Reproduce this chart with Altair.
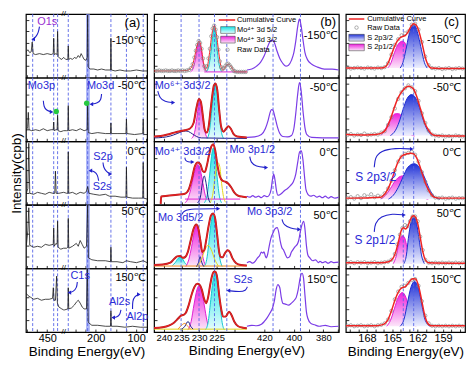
import altair as alt
import pandas as pd

FONT = "Liberation Sans, DejaVu Sans, Noto Sans CJK SC"
TEMPS = ["-150℃", "-50℃", "0℃", "50℃", "150℃"]

# ---------------- (a) survey spectra: (binding energy eV, intensity a.u.) ----------------
A_M150 = [(501.6, 27), (498.0, 29), (493.2, 26), (489.6, 27), (487.2, 37), (484.8, 25), (478.8, 24), (469.2, 25),
          (459.6, 24), (450.0, 25), (440.4, 24), (435.1, 25), (434.0, 41), (432.5, 24), (428.4, 25), (425.5, 24),
          (424.3, 48), (422.9, 22), (418.8, 20), (414.0, 19), (409.5, 21), (279.0, 21), (274.3, 19), (269.0, 19),
          (267.9, 33), (266.7, 19), (262.3, 20), (257.5, 19), (252.8, 21), (248.0, 20), (243.2, 23), (239.6, 21),
          (236.0, 25), (232.4, 22), (228.8, 19), (224.0, 18), (221.1, 21), (219.9, 65), (218.5, 11), (214.4, 9),
          (204.8, 9), (195.2, 8), (185.6, 9), (176.0, 8), (163.5, 8), (162.4, 41), (161.2, 8), (152.0, 7),
          (140.0, 8), (128.0, 7), (113.7, 7), (99.3, 8), (84.9, 7), (72.9, 7)]
A_M50 = [(501.6, 11), (498.5, 15), (496.8, 30), (494.9, 12), (488.4, 11), (478.8, 12), (469.2, 11), (459.6, 13),
         (450.0, 11), (440.4, 12), (435.1, 12), (434.0, 20), (432.8, 11), (428.4, 12), (425.5, 12), (424.3, 27),
         (423.1, 11), (416.4, 10), (409.5, 11), (279.0, 11), (271.9, 11), (269.0, 11), (267.9, 37), (266.7, 11),
         (257.5, 12), (248.0, 11), (238.4, 13), (228.8, 11), (221.1, 12), (219.9, 39), (218.5, 9), (209.6, 8),
         (195.2, 9), (176.0, 8), (163.5, 8), (162.4, 19), (161.2, 8), (147.2, 8), (125.2, 8), (124.0, 23),
         (122.8, 8), (104.0, 7), (83.7, 8), (82.5, 23), (81.3, 7), (72.9, 7)]
A_0 = [(501.6, 12), (498.0, 17), (495.6, 64), (493.2, 12), (483.6, 11), (474.0, 13), (464.4, 12), (454.8, 11),
       (445.2, 13), (435.6, 12), (431.3, 12), (429.6, 35), (427.9, 12), (421.2, 12), (409.5, 13), (279.0, 13),
       (271.9, 12), (269.0, 12), (267.9, 55), (266.7, 12), (257.5, 13), (248.0, 11), (238.4, 13), (228.8, 12),
       (222.8, 14), (219.9, 19), (216.8, 12), (204.8, 11), (190.4, 10), (176.0, 11), (166.4, 9), (152.0, 9),
       (137.6, 8), (125.2, 8), (124.0, 39), (122.8, 8), (108.9, 7), (94.5, 7), (83.7, 7), (82.5, 44), (81.3, 7),
       (72.9, 6)]
A_50 = [(501.6, 24), (498.0, 39), (495.6, 63), (493.2, 24), (483.6, 22), (474.0, 23), (464.4, 22), (454.8, 25),
        (445.2, 24), (435.1, 25), (434.0, 42), (432.8, 23), (428.4, 26), (425.5, 25), (424.3, 49), (423.1, 22),
        (416.4, 20), (409.5, 21), (279.0, 21), (271.9, 21), (269.0, 22), (267.9, 52), (266.7, 21), (257.5, 23),
        (248.0, 26), (243.2, 23), (238.4, 29), (233.6, 25), (228.8, 21), (222.8, 23), (219.9, 66), (218.0, 11),
        (209.6, 9), (195.2, 8), (176.0, 8), (163.5, 7), (162.4, 22), (161.2, 7), (147.2, 7), (132.8, 6),
        (124.0, 8), (113.7, 7), (99.3, 6), (82.5, 8), (72.9, 6)]
A_150 = [(501.6, 40), (498.0, 38), (490.8, 36), (483.6, 34), (474.0, 35), (464.4, 33), (454.8, 34), (445.2, 34),
         (436.8, 35), (434.9, 46), (433.2, 33), (429.6, 33), (426.7, 58), (424.8, 30), (421.2, 26), (414.0, 24),
         (409.5, 23), (279.0, 23), (276.7, 23), (269.0, 24), (267.9, 46), (266.7, 24), (260.0, 25), (252.8, 28),
         (248.0, 31), (243.2, 33), (238.4, 30), (233.6, 26), (228.8, 24), (222.8, 24), (220.9, 66), (218.5, 10),
         (209.6, 7), (195.2, 7), (176.0, 6), (163.5, 6), (162.4, 22), (161.2, 6), (147.2, 6), (128.0, 5),
         (108.9, 6), (89.7, 5), (72.9, 5)]
A_SPECTRA = [A_M150, A_M50, A_0, A_50, A_150]
A_PEAK_LINES = [486, 434, 424.3, 267.9, 219.9, 162.4, 124, 82.5]
A_BAND = [(224.0, 214.4, 0, 66)]

# ---------------- (b) Mo 3d / Mo 3p ----------------
B_FIT_M150 = [(242.84, 7), (237.6, 7), (233.5, 7.5), (232.1, 11), (231.3, 21), (230.6, 33), (229.98, 38),
              (229.35, 31), (228.8, 17), (228.24, 9), (227.7, 11), (227.0, 26), (226.3, 46), (225.69, 54),
              (225.08, 46), (224.39, 26), (223.84, 13), (223.29, 8), (222.74, 10), (222.19, 13), (221.55, 14),
              (220.95, 12), (220.26, 8), (219.43, 6), (216.41, 6)]
B_RAW_M150 = [(242.5, 7), (241.9, 7), (241.3, 7.5), (240.7, 7), (240.1, 7), (239.5, 7.5), (238.9, 7), (238.3, 7),
              (237.7, 7.5), (237.1, 7), (236.5, 7), (235.9, 7.5), (235.3, 7), (234.7, 7.5), (234.1, 7), (233.5, 7.5),
              (232.9, 8), (232.3, 10), (231.8, 14), (231.3, 21), (230.9, 28), (230.5, 34), (230.1, 38), (229.7, 36),
              (229.3, 30), (228.9, 20), (228.5, 12), (228.1, 9), (227.7, 12), (227.3, 20), (226.9, 30), (226.5, 43),
              (226.1, 51), (225.7, 54), (225.3, 50), (224.9, 42), (224.5, 29), (224.1, 17), (223.7, 11), (223.3, 9),
              (222.9, 10), (222.5, 12), (222.1, 14), (221.7, 14.5), (221.3, 13), (220.9, 11), (220.5, 9), (220.1, 7),
              (219.7, 6.5), (219.1, 6), (218.5, 6), (217.9, 6), (217.3, 6), (216.7, 6)]
B_MAG_M150 = [(232.38, 6), (231.55, 11), (230.86, 23), (230.45, 33), (229.98, 37), (229.48, 31), (229.07, 21),
              (228.52, 11), (227.7, 6)]
B_CYAN_M150 = [(227.97, 6), (227.28, 11), (226.73, 23), (226.18, 41), (225.69, 53), (225.22, 43), (224.67, 23),
               (224.12, 11), (223.43, 6)]
B_BASE_M150 = [(228.5, 6), (216.41, 6)]
B_PURPLE_M150 = [(431.8, 8), (428.5, 9), (425.2, 12), (422.6, 16), (420.0, 23), (418.03, 31), (416.39, 37),
                 (414.56, 39), (413.11, 36), (411.47, 28), (409.5, 20), (407.54, 15), (405.38, 12), (403.61, 13),
                 (401.64, 18), (400.0, 26), (398.69, 38), (397.38, 53), (396.2, 61), (395.08, 54), (393.77, 39),
                 (392.46, 26), (390.49, 18), (387.87, 14), (383.94, 11), (379.35, 9), (374.1, 9), (369.51, 8)]

B_FIT_M50 = [(242.84, 5), (240.91, 5.5), (238.98, 7), (237.05, 9), (235.4, 10.5), (234.03, 11.5), (232.65, 13),
             (231.55, 19), (230.72, 35), (230.03, 44), (229.48, 41), (228.93, 27), (228.38, 12), (227.83, 9),
             (227.28, 15), (226.73, 32), (226.18, 49), (225.77, 58), (225.3, 60), (224.8, 53), (224.25, 32),
             (223.7, 15), (223.01, 10), (222.33, 13), (221.64, 15.5), (220.95, 13), (220.26, 8), (219.16, 5),
             (216.41, 4)]
B_NAVY_M50 = [(242.84, 3.5), (240.36, 4), (238.16, 5.5), (236.23, 8), (234.85, 10), (233.89, 10.7), (232.93, 10),
              (231.83, 7.5), (230.72, 5), (229.35, 3.5), (216.41, 3)]
B_MAG_M50 = [(232.1, 3), (231.28, 9), (230.59, 25), (230.09, 39), (229.7, 42), (229.29, 37), (228.8, 22),
             (228.24, 9), (227.56, 3)]
B_CYAN_M50 = [(227.7, 3), (227.01, 11), (226.46, 29), (225.91, 49), (225.3, 59), (224.72, 48), (224.25, 29),
              (223.7, 11), (223.01, 3)]
B_PURPLE_M50 = [(431.8, 4), (426.56, 4.5), (421.97, 7), (419.34, 13), (417.38, 22), (416.07, 30), (415.21, 33),
                (414.1, 32), (412.79, 25), (411.15, 15), (409.5, 8), (407.54, 5), (404.26, 4.5), (401.64, 6),
                (400.0, 13), (398.69, 29), (397.38, 49), (396.2, 61), (395.08, 53), (393.77, 31), (392.46, 14),
                (391.15, 7), (387.87, 4), (380.66, 3.5), (369.51, 3.5)]

B_FIT_0 = [(240.91, 1), (240.77, 8.7), (238.98, 9.5), (236.23, 10.5), (234.03, 11.5), (232.93, 16), (232.1, 26),
           (231.28, 39), (230.36, 44), (229.62, 42), (228.93, 35), (228.38, 34), (227.83, 40), (227.14, 52),
           (226.46, 61), (225.96, 63), (225.36, 56), (224.81, 42), (224.12, 30), (223.29, 25), (222.47, 24),
           (221.64, 22), (220.81, 18), (219.99, 13), (218.88, 9.5), (217.51, 8.5), (216.41, 8)]
B_MAG_0 = [(234.03, 2), (233.2, 6), (232.38, 16), (231.55, 30), (230.86, 39), (230.36, 42), (229.76, 38),
           (229.07, 26), (228.24, 10), (227.42, 2)]
B_NAVY_0 = [(230.45, 2), (229.62, 8), (229.07, 22), (228.52, 30), (227.97, 22), (227.42, 8), (226.73, 2)]
B_CYAN_0 = [(228.52, 2), (227.7, 10), (227.01, 30), (226.46, 50), (225.96, 59), (225.5, 52), (224.94, 32),
            (224.25, 10), (223.57, 2)]
B_YEL_0 = [(226.87, 2), (226.04, 12), (225.36, 32), (224.67, 44), (224.12, 40), (223.57, 22), (222.88, 6),
           (222.19, 2)]
B_BASE_0 = [(234.0, 6), (218.3, 6)]
B_PURPLE_0 = [(431.8, 9), (429.84, 8), (427.87, 9.5), (425.9, 8), (423.93, 9), (421.97, 7.5), (420.0, 9.5),
              (418.03, 8.5), (416.72, 10), (415.41, 16), (414.43, 27), (413.64, 32), (412.79, 26), (411.8, 15),
              (410.82, 10), (409.5, 10.5), (408.2, 12), (406.23, 15), (404.26, 17), (402.3, 20), (400.33, 24),
              (398.69, 32), (397.38, 44), (396.07, 55), (394.89, 56), (393.77, 46), (392.79, 30), (391.8, 16),
              (390.49, 11), (388.52, 9), (386.56, 10), (384.59, 8), (382.62, 9), (380.66, 7.5), (378.69, 9),
              (376.72, 7), (374.75, 8.5), (372.13, 7), (369.51, 8)]

B_FIT_50 = [(242.84, 3.5), (240.36, 4), (238.16, 6), (237.05, 10), (236.23, 12.5), (235.4, 13), (234.58, 11),
            (233.89, 12), (233.2, 17), (232.38, 29), (231.55, 41), (230.8, 45.5), (230.17, 41), (229.62, 29),
            (229.07, 17), (228.52, 19), (227.97, 29), (227.28, 44), (226.59, 55), (225.96, 57), (225.36, 51),
            (224.81, 34), (224.26, 17), (223.84, 12), (223.29, 11.5), (222.6, 16), (221.91, 19), (221.23, 17),
            (220.54, 11), (219.43, 5.5), (218.06, 3.5), (216.41, 3)]
B_CYANS_50 = [(237.6, 3), (236.78, 6), (235.95, 10.5), (235.4, 11.5), (234.71, 10), (233.89, 5), (233.2, 3)]
B_MAG_50 = [(233.75, 2), (232.93, 9), (232.1, 23), (231.41, 37), (230.8, 44), (230.17, 38), (229.48, 24),
            (228.8, 10), (227.97, 2)]
B_NAVY_50 = [(230.72, 2), (230.17, 6), (229.7, 12.3), (229.2, 6), (228.66, 2)]
B_YEL_50 = [(230.45, 2), (229.35, 9), (228.24, 20), (227.42, 24), (226.59, 20), (225.49, 9), (224.39, 2)]
B_CYAN_50 = [(228.52, 2), (227.83, 9), (227.28, 24), (226.59, 47), (225.96, 56.5), (225.36, 49), (224.81, 31),
             (224.12, 11), (223.43, 2)]
B_BASE_50 = [(242.84, 2.5), (216.41, 2.5)]
B_PURPLE_50 = [(431.8, 6), (429.84, 7), (427.87, 5.5), (425.9, 8), (424.59, 11), (423.28, 13), (421.97, 17),
               (420.98, 16), (420.2, 17.3), (419.34, 13), (418.69, 11), (417.7, 15), (416.72, 23), (415.41, 32),
               (414.1, 37), (412.79, 41), (411.28, 42.3), (410.16, 37), (409.18, 28), (408.2, 22), (406.89, 19),
               (405.57, 14), (404.26, 11), (402.95, 12), (401.64, 17), (400.33, 20), (399.02, 23), (397.7, 25),
               (396.72, 29), (395.74, 37), (394.75, 44), (393.31, 49), (392.46, 41), (391.48, 24), (390.49, 14),
               (389.18, 11), (387.21, 8), (385.25, 9), (383.28, 6), (382.3, 7.5), (380.66, 6), (378.69, 7),
               (376.72, 5.5), (374.75, 7), (372.79, 6), (369.51, 6.5)]

B_FIT_150 = [(242.84, 4.3), (240.36, 5), (238.43, 7), (237.05, 10), (235.95, 14), (235.13, 17), (234.49, 17.7),
             (233.75, 20), (232.93, 28), (232.1, 39), (231.28, 47), (230.45, 50), (229.9, 49.3), (229.21, 44),
             (228.52, 34), (227.97, 30), (227.42, 36), (226.87, 48), (226.32, 58), (225.77, 62.5), (225.3, 62.7),
             (224.81, 56), (224.26, 38), (223.7, 24), (223.15, 16), (222.47, 16), (221.44, 21), (220.81, 18),
             (219.99, 11), (218.88, 6), (217.51, 4.5), (216.41, 4)]
B_NAVY_150 = [(234.85, 3), (234.03, 6), (233.12, 11), (232.38, 6), (231.69, 3)]
B_ORG_150 = [(235.95, 3), (234.99, 7), (234.03, 9), (233.2, 6), (232.38, 3)]
B_MAG_150 = [(233.2, 2), (232.24, 11), (231.41, 29), (230.59, 44), (229.9, 48.5), (229.21, 43), (228.52, 28),
             (227.7, 11), (226.87, 2)]
B_CYAN_150 = [(228.24, 2), (227.42, 10), (226.73, 31), (226.04, 53), (225.3, 62), (224.67, 53), (224.12, 33),
              (223.43, 10), (222.74, 2)]
B_BASE_150 = [(242.84, 3), (216.41, 3)]
B_PURPLE_150 = [(431.8, 6), (428.5, 7), (425.25, 6.5), (421.97, 8), (420.0, 11), (418.03, 15), (416.07, 20),
                (414.43, 25), (413.11, 33), (412.13, 43), (410.82, 49.3), (409.5, 46), (408.52, 36), (407.54, 30),
                (405.57, 29), (403.61, 28), (401.64, 30), (399.67, 33), (398.36, 36), (397.05, 44), (395.74, 56),
                (394.43, 61), (393.44, 56), (392.46, 38), (391.48, 21), (390.49, 14), (388.52, 9), (385.9, 7.5),
                (382.62, 6), (378.69, 7), (374.75, 5.5), (369.51, 6)]
B_PEAK_LINES = [235.1, 230.0, 225.6, 222.1, 414.1, 395.5]

# ---------------- (c) S 2p ----------------
C_FIT_M150 = [(170.48, 10), (169.23, 10), (167.51, 10), (166.36, 10), (165.79, 11.5), (165.45, 16), (165.1, 24),
              (164.76, 32), (164.42, 38), (164.07, 41.5), (163.73, 43), (163.44, 44), (163.16, 47), (162.81, 53),
              (162.47, 56), (162.13, 54), (161.78, 46), (161.44, 34), (161.1, 21), (160.75, 13), (160.41, 10),
              (159.49, 9.5), (156.4, 9.5)]
C_BLUE_M150 = [(164.07, 10), (163.73, 16), (163.39, 29), (163.04, 44), (162.76, 52), (162.47, 55), (162.19, 52),
               (161.9, 43), (161.55, 29), (161.21, 16), (160.87, 10)]
C_MAG_M150 = [(165.56, 10), (165.22, 14), (164.82, 24), (164.42, 33), (164.07, 37), (163.76, 38), (163.44, 35),
              (163.16, 26), (162.81, 15), (162.47, 10)]
C_RAW_M150 = [(170.3, 10.5), (169.9, 9.5), (169.5, 10), (169.1, 10.5), (168.7, 10), (168.3, 9.5), (167.9, 10.5),
              (167.5, 10), (167.1, 9.5), (166.7, 10.5), (166.3, 10), (165.9, 11), (165.5, 15), (165.1, 24),
              (164.7, 34), (164.3, 40), (163.9, 44), (163.5, 46), (163.1, 48), (162.7, 55), (162.3, 56),
              (161.9, 50), (161.5, 37), (161.1, 22), (160.7, 13), (160.3, 10), (159.9, 9.5), (159.5, 10),
              (159.1, 9), (158.7, 9.5), (158.3, 10), (157.9, 9), (157.5, 9.5), (157.1, 10), (156.7, 9.5)]

C_FIT_M50 = [(170.48, 7), (168.08, 6.5), (166.94, 7), (166.17, 9), (165.79, 12), (165.45, 18), (165.1, 26),
             (164.76, 35), (164.42, 43), (164.07, 49), (163.73, 53), (163.39, 56), (163.04, 57), (162.81, 56.5),
             (162.47, 54), (162.13, 47), (161.78, 37), (161.44, 27), (161.1, 18), (160.75, 12), (160.41, 8),
             (159.95, 6), (158.92, 5.5), (156.4, 5.5)]
C_BLUE_M50 = [(165.22, 6), (164.65, 11), (164.19, 20), (163.73, 33), (163.27, 44), (162.73, 48.5), (162.24, 45),
              (161.78, 35), (161.33, 22), (160.87, 12), (160.3, 6)]
C_MAG_M50 = [(166.36, 6), (165.9, 11), (165.45, 19), (164.99, 26), (164.65, 28.5), (164.3, 28.7), (163.96, 27),
             (163.62, 21), (163.27, 13), (162.81, 7), (162.36, 5.5)]
C_RAW_M50 = [(170.3, 6.5), (169.9, 7.5), (169.5, 6), (169.1, 7), (168.7, 6.5), (168.3, 8), (167.9, 6.5),
             (167.5, 7), (167.1, 7.5), (166.7, 7), (166.3, 9), (165.9, 10.5), (165.5, 17), (165.1, 25),
             (164.7, 34), (164.3, 44), (163.9, 51), (163.5, 55), (163.1, 58), (162.7, 56), (162.3, 52),
             (161.9, 42), (161.5, 29), (161.1, 19), (160.7, 11), (160.3, 7), (159.9, 6), (159.5, 5.5),
             (159.1, 6), (158.7, 5), (158.3, 5.5), (157.9, 5), (157.5, 6), (157.1, 5.5), (156.7, 5)]

C_FIT_0 = [(170.48, 7), (167.51, 7.5), (166.36, 8), (166.02, 10), (165.68, 14), (165.33, 20), (164.99, 28),
           (164.65, 37), (164.3, 45), (163.96, 50), (163.62, 52), (163.27, 53), (162.81, 53.7), (162.47, 53),
           (162.13, 49), (161.78, 41), (161.44, 32), (161.1, 23), (160.75, 16), (160.41, 11), (160.07, 8),
           (159.38, 7), (156.4, 7)]
C_BLUE_0 = [(165.45, 6), (164.88, 10), (164.3, 18), (163.73, 29), (163.16, 39), (162.43, 42.7), (161.78, 39),
            (161.21, 29), (160.64, 17), (160.07, 9), (159.38, 6)]
C_MAG_0 = [(166.36, 6), (165.79, 10), (165.22, 17), (164.65, 25), (164.07, 29.5), (163.58, 30.3), (163.04, 28),
           (162.47, 21), (161.9, 13), (161.33, 7.5), (160.75, 6)]
C_RAW_0 = [(170.3, 7), (169.9, 8), (169.5, 6.5), (169.1, 9), (168.7, 7), (168.3, 10), (167.9, 8.5), (167.5, 11),
           (167.1, 8), (166.7, 9.5), (166.3, 8.5), (165.9, 12), (165.5, 17), (165.1, 25), (164.7, 36), (164.3, 45),
           (163.9, 50), (163.5, 53), (163.1, 54), (162.7, 55), (162.3, 52), (161.9, 45), (161.5, 34), (161.1, 24),
           (160.7, 15), (160.3, 10), (159.9, 7.5), (159.5, 7), (159.1, 7.5), (158.7, 6.5), (158.3, 7), (157.9, 7.5),
           (157.5, 6.5), (157.1, 7), (156.7, 7)]

C_FIT_50 = [(170.48, 6), (166.36, 6), (165.45, 7), (164.88, 11), (164.53, 19), (164.19, 31), (163.96, 39),
            (163.69, 42.3), (163.44, 41), (163.21, 43), (162.93, 49), (162.7, 53.5), (162.47, 54.7), (162.24, 53),
            (161.95, 45), (161.67, 31), (161.38, 17), (161.1, 9), (160.75, 6), (156.4, 5.5)]
C_BLUE_50 = [(163.62, 5), (163.33, 14), (163.1, 31), (162.81, 47), (162.47, 53.5), (162.13, 47), (161.84, 31),
             (161.55, 14), (161.21, 5)]
C_MAG_50 = [(164.88, 5), (164.53, 13), (164.24, 25), (164.01, 32), (163.76, 34), (163.5, 31), (163.27, 22),
            (163.04, 11), (162.76, 5)]
C_RAW_50 = [(170.3, 6), (169.9, 6.5), (169.5, 5.5), (169.1, 6.5), (168.7, 6), (168.3, 6.5), (167.9, 5.5),
            (167.5, 6), (167.1, 6.5), (166.7, 5.5), (166.3, 6), (165.9, 6.5), (165.5, 7), (165.1, 9), (164.7, 15),
            (164.4, 25), (164.1, 35), (163.8, 42), (163.5, 45), (163.2, 44), (162.9, 49), (162.6, 54), (162.3, 54),
            (162.0, 49), (161.7, 33), (161.4, 19), (161.1, 9), (160.7, 6), (160.3, 5.5), (159.9, 6), (159.5, 5.5),
            (159.1, 6), (158.7, 5.5), (158.3, 6), (157.9, 5.5), (157.5, 6), (157.1, 5.5), (156.7, 6)]

C_FIT_150 = [(170.48, 6.5), (166.94, 6.5), (166.02, 8), (165.56, 12), (165.1, 22), (164.65, 34), (164.19, 43),
             (163.85, 46), (163.5, 47), (163.16, 50), (162.81, 54), (162.53, 55.3), (162.24, 55), (161.9, 48),
             (161.55, 34), (161.21, 19), (160.87, 10), (160.41, 6.5), (156.4, 6.5)]
C_BLUE_150 = [(164.07, 6), (163.62, 13), (163.21, 30), (162.81, 46), (162.36, 52.5), (161.9, 45), (161.5, 28),
              (161.1, 12), (160.52, 6)]
C_MAG_150 = [(165.67, 6), (165.22, 12), (164.76, 24), (164.3, 36), (163.81, 41), (163.39, 36), (162.99, 23),
             (162.58, 11), (162.24, 6)]
C_RAW_150 = [(170.3, 6.5), (169.9, 7), (169.5, 6), (169.1, 6.5), (168.7, 7), (168.3, 6), (167.9, 6.5), (167.5, 7),
             (167.1, 6), (166.7, 7), (166.3, 7.5), (165.9, 9), (165.5, 13), (165.1, 22), (164.7, 34), (164.3, 42),
             (163.9, 47), (163.5, 48), (163.1, 51), (162.7, 54), (162.3, 55), (161.9, 48), (161.5, 32), (161.1, 17),
             (160.7, 9), (160.3, 6.5), (159.9, 6), (159.5, 6.5), (159.1, 6), (158.7, 6.5), (158.3, 6), (157.9, 6.5),
             (157.5, 6), (157.1, 6.5), (156.7, 6)]
C_PEAK_LINES = [163.7, 162.47]

# ---------------- axes ----------------
A_TICKS = [500, 475, 450, 250, 225, 200, 175, 150, 125, 100, 75]
A_LABELED = [450, 200, 100]
B_TICKS = [240, 235, 230, 225, 220, 420, 410, 400, 390, 380, 370]
B_LABELED = [240, 235, 230, 225, 420, 400, 380]
C_TICKS = list(range(157, 171))
C_LABELED = [168, 165, 162, 159]

# ---------------- styling / layout ----------------
BLUE_TXT = "#2a2ad6"
PURPLE_TXT = "#9a2fd1"
ARROW = "#2222cc"
DASH = "#5563e6"
SPEC_A = "#1c1c1c"
PURPLE = "#7b3ce6"
RED = "#ef2424"
DARKRED = "#b41c1f"
GRAY = "#8a8a8a"
MAG_LINE = "#e01fd2"
CYAN_LINE = "#14c6cf"
BLUE_LINE = "#1d2bd0"
NAVY = "#1c1c88"
YELLOW = "#e6d81a"
ORANGE = "#f28c22"
FILLS = {"mag": ("#ee22dd", "#fce6f9", MAG_LINE),
         "cyan": ("#16e2e6", "#e6fcfc", CYAN_LINE),
         "blue": ("#1f30d6", "#eef0ff", BLUE_LINE)}
W = {"a": 122, "b": 186, "c": 120}
H = 64
LABEL_SIZE = {"a": 11, "b": 9.5, "c": 11}
XDOM = {"a": [72.9, 372.8], "b": [0, 191], "c": [156.4, 170.5]}
XREV = {"a": True, "b": False, "c": True}
STYLES = {
    "temp": dict(color="black", fontSize=11, align="right"),
    "tag": dict(color="black", fontSize=13, align="center"),
    "blue": dict(color=BLUE_TXT, fontSize=11, align="center"),
    "blueL": dict(color=BLUE_TXT, fontSize=11, align="left"),
    "blue12": dict(color=BLUE_TXT, fontSize=12, align="center"),
    "purple": dict(color=PURPLE_TXT, fontSize=11, align="center"),
    "leg": dict(color="black", fontSize=7.5, align="left"),
    "brk": dict(color="black", fontSize=8, align="center"),
}
TEMP_BE = {"a": 76, "b": 370.2, "c": 156.86}
TEMP_I = {"a": [38, 57, 55, 59, 56], "b": [43, 55, 54, 54, 54], "c": [39, 55, 54, 57, 54]}

LABELS = {
    ("a", 0): [("(a)", 109, 57, "tag"), ("O1s", 450, 58, "purple")],
    ("a", 1): [("Mo3p", 464.4, 57, "blue"), ("Mo3d", 188, 57, "blue")],
    ("a", 2): [("S2p", 182, 50, "blue"), ("S2s", 184.4, 19, "blue")],
    ("a", 4): [("C1s", 238.4, 58, "blue"), ("Al2s", 141.2, 31, "blue"), ("Al2p", 96.9, 16, "blue")],
    ("b", 0): [("(b)", 376.7, 58, "tag"), ("Cumulative Curve", 219.2, 60, "leg"), ("Mo⁴⁺ 3d 5/2", 219.2, 49.5, "leg"),
               ("Mo⁴⁺ 3d 3/2", 219.2, 39.5, "leg"), ("Raw Data", 219.2, 29, "leg")],
    ("b", 1): [("Mo⁶⁺ 3d3/2", 242.6, 57, "blueL")],
    ("b", 2): [("Mo⁴⁺ 3d3/2", 242.6, 55, "blueL"), ("Mo 3p1/2", 428.2, 57, "blue")],
    ("b", 3): [("Mo 3d5/2", 241.7, 52, "blueL"), ("Mo 3p3/2", 416.4, 59, "blue")],
    ("b", 4): [("S2s", 217.5, 54, "blue")],
    ("c", 0): [("(c)", 158.0, 58, "tag"), ("Cumulative Curve", 167.97, 61, "leg"), ("Raw Data", 167.97, 52, "leg"),
               ("S 2p3/2", 167.97, 41.5, "leg"), ("S 2p1/2", 167.97, 31.5, "leg")],
    ("c", 2): [("S 2p3/2", 166.94, 29, "blue12")],
    ("c", 3): [("S 2p1/2", 167.05, 30, "blue12")],
}
LEG_LINES = {("b", 0): [[(224.39, 60), (219.71, 60)]], ("c", 0): [[(170.14, 61), (168.31, 61)]]}
LEG_BOXES = {("b", 0): [((223.84, 219.71, 46, 53), "cyan"), ((223.84, 219.71, 36, 43), "mag")],
             ("c", 0): [((170.14, 168.31, 38, 45), "blue"), ((170.14, 168.31, 28, 35), "mag")]}
LEG_DOTS = {("b", 0): [(221.9, 29)], ("c", 0): [(169.23, 52)]}
GREEN = {("a", 1): [(427.7, 31), (222.3, 39.5)]}
ARROWS = {
    ("a", 0): [([(469.2, 53), (471.6, 47), (477.6, 42.5), (484.8, 40)], "triangle-left")],
    ("a", 1): [([(459.6, 42), (458.4, 36), (452.4, 32), (439.2, 30.5)], "triangle-right"),
               ([(185.6, 49), (186.8, 43), (195.2, 39.5), (210.8, 38.5)], "triangle-left")],
    ("a", 2): [([(182, 44), (180.8, 39), (173.6, 34.5), (164, 32)], "triangle-right"),
               ([(192.8, 25), (195.2, 31), (202.4, 34.5), (213.2, 35.5)], "triangle-left")],
    ("a", 4): [([(245.6, 52), (246.8, 46), (255.2, 42), (265.2, 41)], "triangle-left"),
               ([(137.6, 23), (140, 18), (147.2, 15.5), (156.8, 15)], "triangle-left"),
               ([(108.9, 24), (108.9, 32), (104.1, 37), (93.3, 39)], "triangle-right")],
    ("b", 1): [([(241.73, 52), (241.18, 45), (239.8, 41), (237.33, 40.2)], "triangle-right")],
    ("b", 2): [([(234.03, 49), (233.89, 46), (233.2, 44.5), (231.83, 44.5)], "triangle-right"),
               ([(429.84, 50), (429.18, 44), (425.9, 40), (418.7, 38.7)], "triangle-right")],
    ("b", 3): [([(234.93, 56), (234.3, 60), (232.1, 62), (224.53, 62)], "triangle-right"),
               ([(408.0, 51), (406.89, 45), (402.3, 41.5), (396.4, 40.5)], "triangle-right")],
    ("b", 4): [([(431.5, 47), (216.68, 43), (218.33, 41.5), (221.64, 43)], "triangle-left")],
    ("c", 2): [([(167.13, 39), (167.05, 49), (166.36, 56), (164.65, 59), (162.7, 58)], "triangle-right")],
    ("c", 3): [([(167.13, 38), (167.05, 47), (166.36, 54), (164.99, 57), (163.62, 55.5)], "triangle-right")],
}

B_ROWS = [
    dict(fit=B_FIT_M150, purple=B_PURPLE_M150, raw=B_RAW_M150,
         fills=[(B_MAG_M150, "mag"), (B_CYAN_M150, "cyan")], lines=[(B_BASE_M150, MAG_LINE)]),
    dict(fit=B_FIT_M50, purple=B_PURPLE_M50, raw=None,
         fills=[(B_MAG_M50, "mag"), (B_CYAN_M50, "cyan")], lines=[(B_NAVY_M50, NAVY)]),
    dict(fit=B_FIT_0, purple=B_PURPLE_0, raw=None,
         fills=[(B_MAG_0, "mag"), (B_CYAN_0, "cyan")],
         lines=[(B_BASE_0, MAG_LINE), (B_NAVY_0, NAVY), (B_YEL_0, YELLOW)]),
    dict(fit=B_FIT_50, purple=B_PURPLE_50, raw=None,
         fills=[(B_CYANS_50, "cyan"), (B_MAG_50, "mag"), (B_CYAN_50, "cyan")],
         lines=[(B_BASE_50, ORANGE), (B_NAVY_50, NAVY), (B_YEL_50, YELLOW)]),
    dict(fit=B_FIT_150, purple=B_PURPLE_150, raw=None,
         fills=[(B_MAG_150, "mag"), (B_CYAN_150, "cyan")],
         lines=[(B_BASE_150, YELLOW), (B_NAVY_150, NAVY), (B_ORG_150, ORANGE)]),
]
C_ROWS = [
    (C_FIT_M150, C_BLUE_M150, C_MAG_M150, C_RAW_M150),
    (C_FIT_M50, C_BLUE_M50, C_MAG_M50, C_RAW_M50),
    (C_FIT_0, C_BLUE_0, C_MAG_0, C_RAW_0),
    (C_FIT_50, C_BLUE_50, C_MAG_50, C_RAW_50),
    (C_FIT_150, C_BLUE_150, C_MAG_150, C_RAW_150),
]


def u_expr(col, f):
    if col == "a":
        return f"datum.{f} > 340 ? datum.{f} - 130 : datum.{f}"
    if col == "b":
        return f"datum.{f} < 300 ? (242.8 - datum.{f}) * 3.633 : 96 + (431.8 - datum.{f}) * 1.525"
    return f"datum.{f}"


def u_py(col, be):
    if col == "a":
        return be - 130 if be > 340 else be
    if col == "b":
        return (242.8 - be) * 3.633 if be < 300 else 96 + (431.8 - be) * 1.525
    return be


TICKS = {"a": A_TICKS, "b": B_TICKS, "c": C_TICKS}
LABELED = {"a": A_LABELED, "b": B_LABELED, "c": C_LABELED}


def x_axis(col, bottom):
    vals = [round(u_py(col, t), 4) for t in TICKS[col]]
    common = dict(values=vals, domain=False, ticks=True, tickSize=3, offset=-3, tickColor="black",
                  tickWidth=0.8, grid=False)
    if not bottom:
        return alt.Axis(labels=False, title=None, **common)
    expr = "''"
    for t in LABELED[col]:
        expr = f"abs(datum.value - {round(u_py(col, t), 4)}) < 0.01 ? '{t}' : ({expr})"
    return alt.Axis(labelExpr=expr, labelFontSize=LABEL_SIZE[col], labelFont=FONT, labelColor="black",
                    labelPadding=1, labelOverlap=False, labelFlush=False, title="Binding Energy(eV)",
                    titleFont=FONT, titleFontSize=13.5, titleFontWeight="normal", titleColor="black",
                    titlePadding=1, **common)


def y_axis(with_title):
    common = dict(values=[12, 24, 36, 48, 60], labels=False, domain=False, tickSize=3, offset=-3,
                  tickColor="black", tickWidth=0.8, grid=False)
    if with_title:
        return alt.Axis(title="Intensity(cpb)", titleFont=FONT, titleFontSize=13.5, titleFontWeight="normal",
                        titleColor="black", titlePadding=2, **common)
    return alt.Axis(title=None, **common)


def grad(top, bot):
    return alt.LinearGradient(gradient="linear", x1=0, x2=0, y1=0, y2=1,
                              stops=[alt.GradientStop(color=top, offset=0), alt.GradientStop(color=bot, offset=1)])


class Panel:
    def __init__(self, col, row):
        self.col, self.row = col, row
        self.bottom = row == 4
        self.yt = (col == "a" and row == 2)
        self.layers = []

    def base(self, df, two=False):
        c = alt.Chart(df).transform_calculate(u=u_expr(self.col, "be"))
        if two:
            c = c.transform_calculate(u2=u_expr(self.col, "be2"))
        return c

    def X(self):
        return alt.X("u:Q", scale=alt.Scale(domain=XDOM[self.col], reverse=XREV[self.col], nice=False, zero=False),
                     axis=x_axis(self.col, self.bottom))

    def Y(self):
        return alt.Y("I:Q", scale=alt.Scale(domain=[0, 66], nice=False, zero=False), axis=y_axis(self.yt))

    def line(self, pts, color, width=1.0, interp="linear"):
        df = pd.DataFrame(pts, columns=["be", "I"])
        self.layers.append(self.base(df).mark_line(color=color, strokeWidth=width, interpolate=interp, clip=True)
                           .encode(x=self.X(), y=self.Y()))

    def area(self, pts, kind):
        df = pd.DataFrame(pts, columns=["be", "I"])
        df["I0"] = df["I"].min()
        top, bot, edge = FILLS[kind]
        self.layers.append(self.base(df).mark_area(color=grad(top, bot), interpolate="monotone", clip=True)
                           .encode(x=self.X(), y=self.Y(), y2="I0:Q"))
        self.line(pts, edge, 1.0, "monotone")

    def points(self, pts, color=GRAY, size=12, filled=False, shape="circle"):
        df = pd.DataFrame(pts, columns=["be", "I"])
        self.layers.append(self.base(df).mark_point(shape=shape, filled=filled, size=size, color=color,
                                                    strokeWidth=0.7, opacity=1, clip=True)
                           .encode(x=self.X(), y=self.Y()))

    def rules(self, vals):
        df = pd.DataFrame({"be": vals})
        self.layers.append(self.base(df).mark_rule(color=DASH, strokeDash=[3, 2], strokeWidth=0.9)
                           .encode(x=self.X()))

    def rect(self, rows, color, opacity=1.0, stroke=False):
        df = pd.DataFrame(rows, columns=["be", "be2", "I", "I2"])
        kw = dict(color=color, opacity=opacity)
        if stroke:
            kw.update(stroke="#333333", strokeWidth=0.5)
        self.layers.append(self.base(df, two=True).mark_rect(**kw)
                           .encode(x=self.X(), x2="u2:Q", y=self.Y(), y2="I2:Q"))

    def texts(self, items):
        df = pd.DataFrame(items, columns=["t", "be", "I", "style"])
        for style, g in df.groupby("style"):
            self.layers.append(self.base(g[["t", "be", "I"]].reset_index(drop=True))
                               .mark_text(font=FONT, baseline="middle", **STYLES[style])
                               .encode(x=self.X(), y=self.Y(), text="t:N"))

    def arrow(self, pts, shape):
        df = pd.DataFrame(pts, columns=["be", "I"])
        df["k"] = range(len(df))
        self.layers.append(self.base(df).mark_line(color=ARROW, strokeWidth=1.1, interpolate="basis")
                           .encode(x=self.X(), y=self.Y(), order="k:Q"))
        self.points([pts[-1]], color=ARROW, size=18, filled=True, shape=shape)

    def chart(self):
        return alt.layer(*self.layers).properties(width=W[self.col], height=H)


def build(col, row):
    p = Panel(col, row)
    key = (col, row)
    if col == "a":
        p.rect(A_BAND, "#8c98f5", opacity=0.7)
        p.rules(A_PEAK_LINES)
        p.line(A_SPECTRA[row], SPEC_A, 0.8)
        brk = [("//", 279, 66, "brk")]
        if row == 4:
            brk.append(("//", 279, 0, "brk"))
        p.texts(brk)
    elif col == "b":
        d = B_ROWS[row]
        for pts, kind in d["fills"]:
            p.area(pts, kind)
        for pts, color in d["lines"]:
            p.line(pts, color, 1.0, "monotone")
        p.rules(B_PEAK_LINES)
        if d["raw"] is not None:
            p.line(d["fit"], RED, 1.0, "monotone")
            p.points(d["raw"], GRAY, 12)
        else:
            p.line(d["fit"], DARKRED, 2.0, "monotone")
            p.line(d["fit"], RED, 1.0, "monotone")
        p.line(d["purple"], PURPLE, 1.2, "monotone")
    else:
        fit, blue, mag, raw = C_ROWS[row]
        p.area(mag, "mag")
        p.area(blue, "blue")
        p.rules(C_PEAK_LINES)
        p.points(raw, GRAY, 11)
        p.line(fit, RED, 1.5, "monotone")
    for pts in LEG_LINES.get(key, []):
        p.line(pts, RED, 1.5)
    for box, kind in LEG_BOXES.get(key, []):
        p.rect([box], grad(FILLS[kind][0], FILLS[kind][1]), stroke=True)
    if key in LEG_DOTS:
        p.points(LEG_DOTS[key], GRAY, 12)
    if key in GREEN:
        p.points(GREEN[key], "#27c941", 30, filled=True)
    items = [(TEMPS[row], TEMP_BE[col], TEMP_I[col][row], "temp")] + LABELS.get(key, [])
    p.texts(items)
    for pts, shape in ARROWS.get(key, []):
        p.arrow(pts, shape)
    return p.chart()


panels = [build(c, r) for r in range(5) for c in "abc"]
chart = (alt.concat(*panels, columns=3, spacing={"row": 0, "column": 7}, bounds="flush", align="each")
         .properties(padding=0)
         .configure(font=FONT)
         .configure_view(stroke="black", strokeWidth=1.2))

chart.save("out.html", embed_options={"renderer": "svg", "actions": False})
